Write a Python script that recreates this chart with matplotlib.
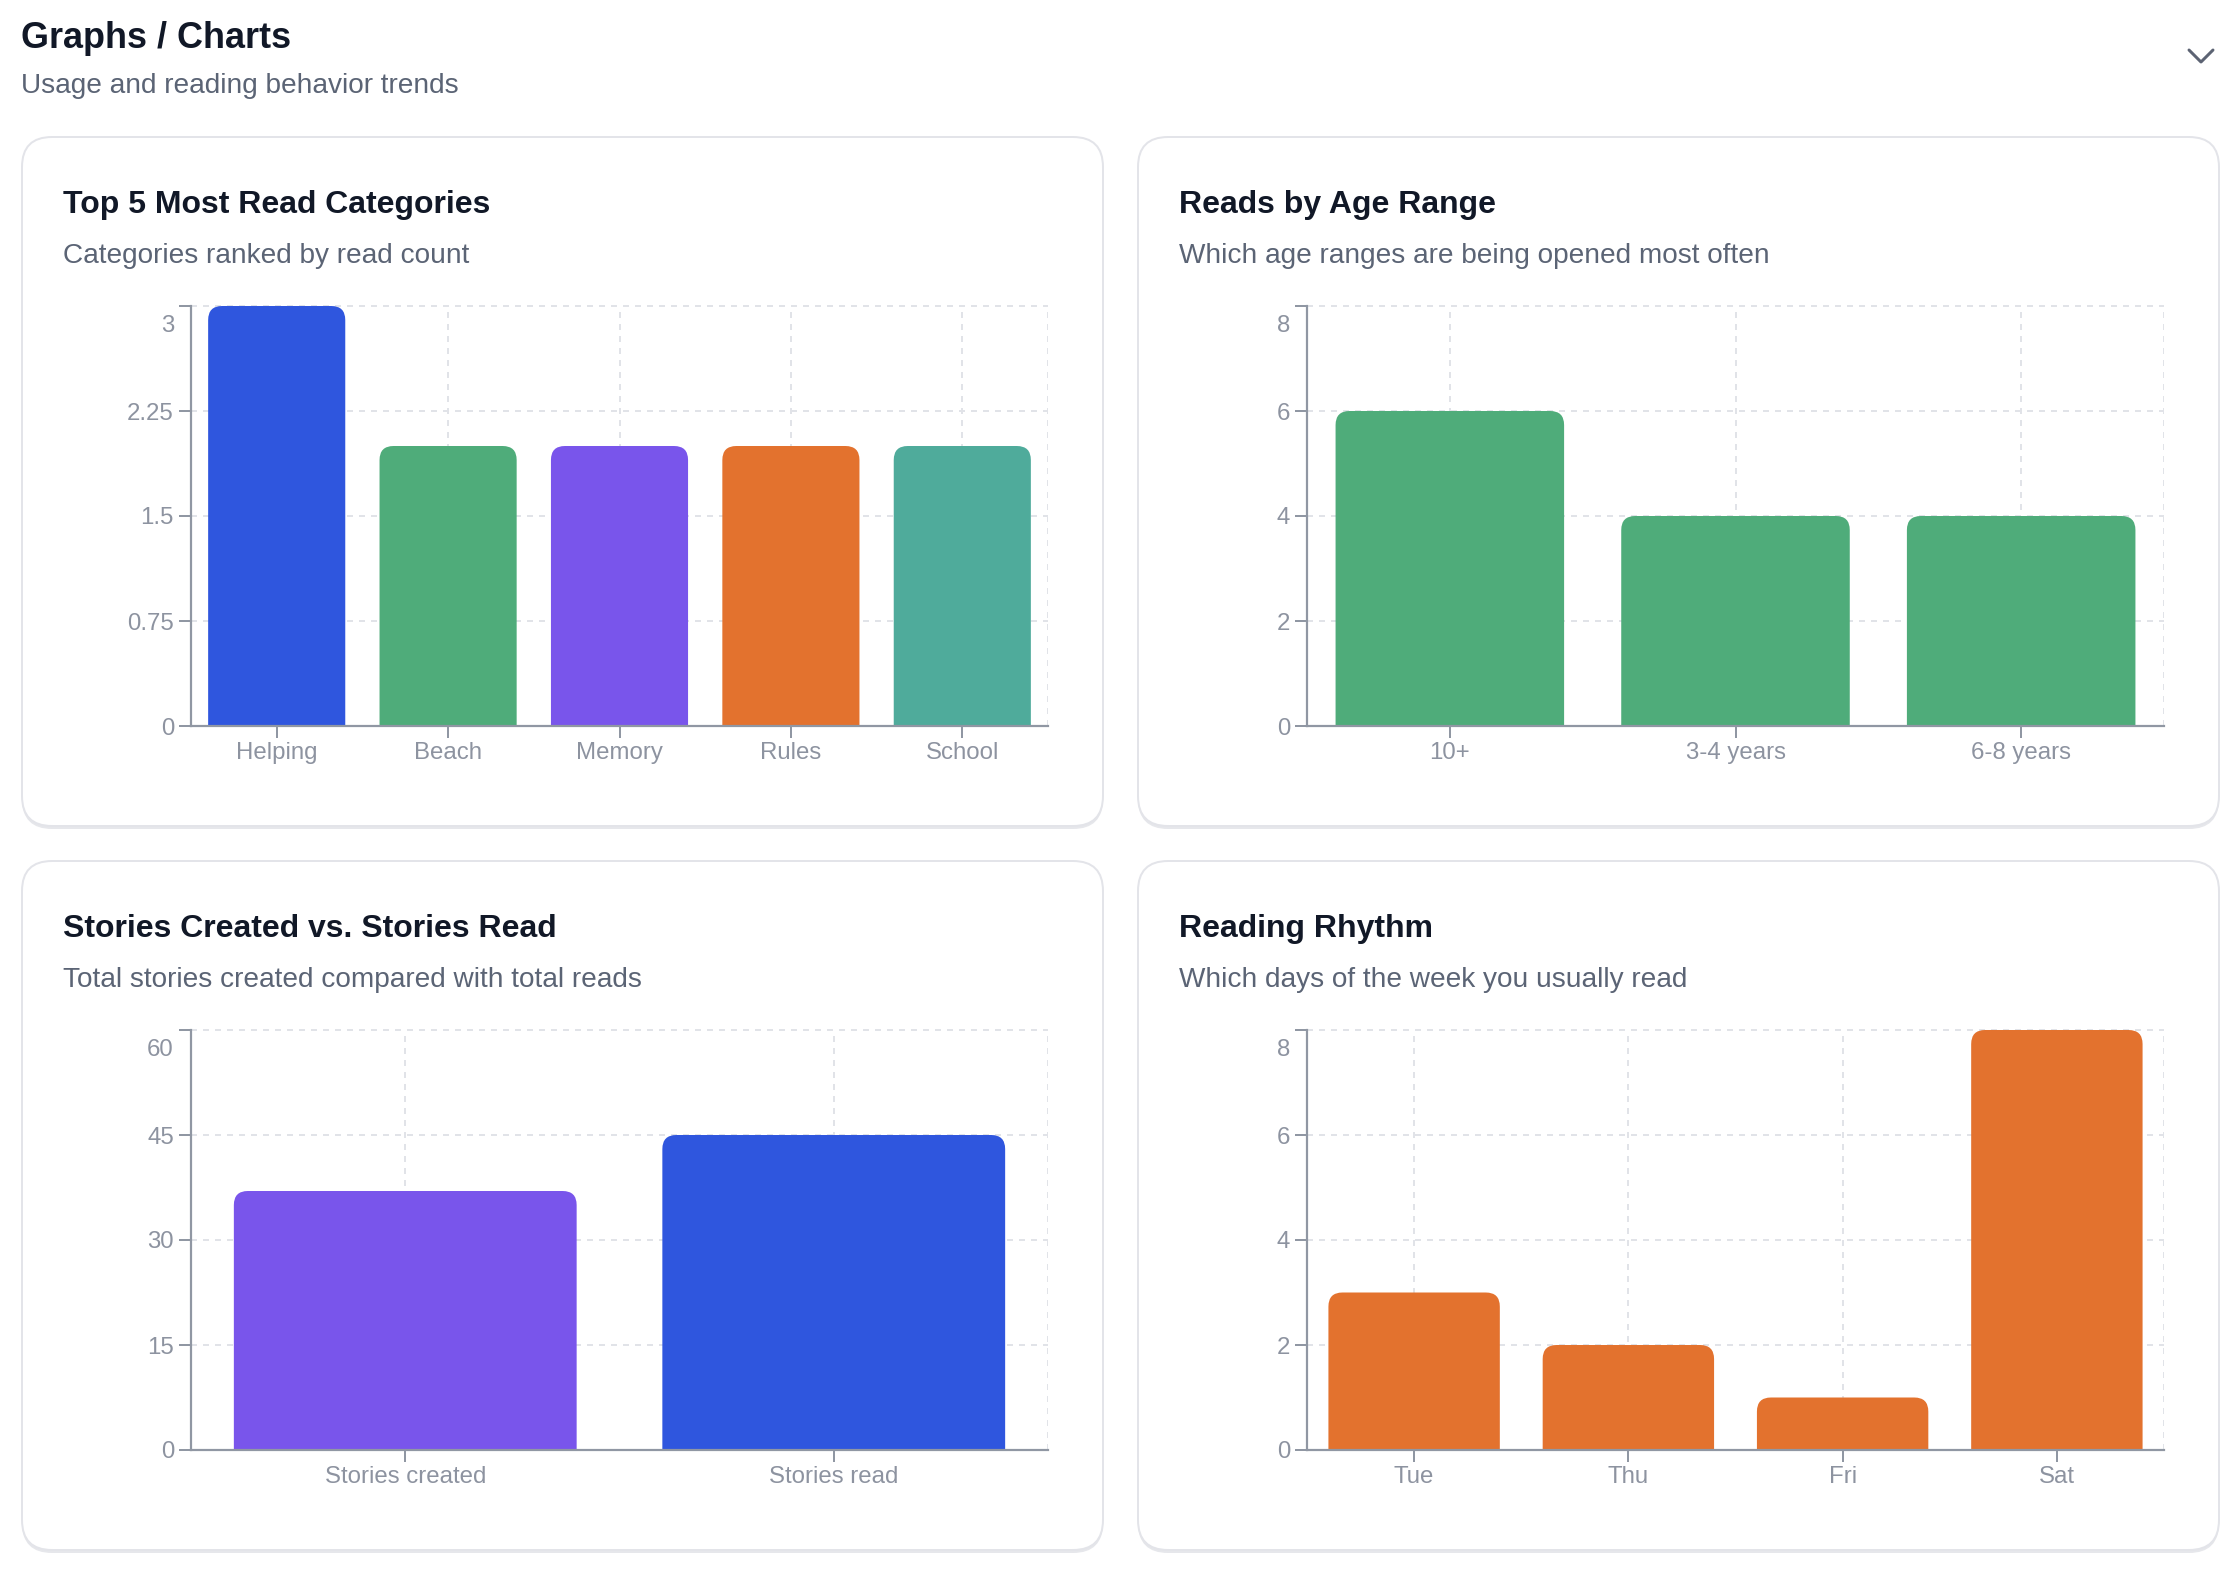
import matplotlib
matplotlib.use("Agg")
import matplotlib.pyplot as plt
from matplotlib.patches import FancyBboxPatch

plt.rcParams["font.family"] = ["Liberation Sans", "DejaVu Sans"]

# ---- data ----
cat_labels = ["Helping", "Beach", "Memory", "Rules", "School"]
cat_reads = [3, 2, 2, 2, 2]
cat_ticks = [0, 0.75, 1.5, 2.25, 3]
cat_tick_labels = ["0", "0.75", "1.5", "2.25", "3"]

age_labels = ["10+", "3-4 years", "6-8 years"]
age_reads = [6, 4, 4]
age_ticks = [0, 2, 4, 6, 8]

story_labels = ["Stories created", "Stories read"]
story_counts = [37, 45]
story_ticks = [0, 15, 30, 45, 60]

day_labels = ["Tue", "Thu", "Fri", "Sat"]
day_reads = [3, 2, 1, 8]
day_ticks = [0, 2, 4, 6, 8]

# ---- style ----
BLUE = "#2f56de"
GREEN = "#4fac7a"
PURPLE = "#7955eb"
ORANGE = "#e3722e"
TEAL = "#4fab9b"
AXIS = "#9097a3"
TICK_TXT = "#8d93a0"
GRID = "#e1e3e8"
TITLE = "#111827"
SUB = "#5b6475"

W, H, DPI = 2238, 1574, 200
PT = 72 / DPI  # points per pixel

fig = plt.figure(figsize=(W / DPI, H / DPI), dpi=DPI)
fig.patch.set_facecolor("white")

# background layer in pixel coordinates
bg = fig.add_axes([0, 0, 1, 1], zorder=0)
bg.set_xlim(0, W)
bg.set_ylim(H, 0)
bg.axis("off")

bg.text(21, 48, "Graphs / Charts", fontsize=36 * PT, fontweight="bold", color=TITLE, va="baseline")
bg.text(21, 93, "Usage and reading behavior trends", fontsize=28 * PT, color=SUB, va="baseline")
bg.plot([2189, 2201, 2213], [50, 62, 50], color="#5c6373", lw=3 * PT,
        solid_capstyle="round", solid_joinstyle="round")

card_w, card_h = 1081, 689
card_pos = [(22, 137), (1138, 137), (22, 861), (1138, 861)]
titles = ["Top 5 Most Read Categories", "Reads by Age Range",
          "Stories Created vs. Stories Read", "Reading Rhythm"]
subtitles = ["Categories ranked by read count",
             "Which age ranges are being opened most often",
             "Total stories created compared with total reads",
             "Which days of the week you usually read"]

for (cx, cy), t, s in zip(card_pos, titles, subtitles):
    shadow = FancyBboxPatch((cx, cy + 3), card_w, card_h,
                            boxstyle="round,pad=0,rounding_size=30",
                            facecolor="#e6e7eb", edgecolor="none")
    bg.add_patch(shadow)
    card = FancyBboxPatch((cx, cy), card_w, card_h,
                          boxstyle="round,pad=0,rounding_size=30",
                          facecolor="white", edgecolor="#e3e4e9", lw=2 * PT)
    bg.add_patch(card)
    bg.text(cx + 41, cy + 76, t, fontsize=32 * PT, fontweight="bold", color=TITLE, va="baseline")
    bg.text(cx + 41, cy + 126, s, fontsize=28 * PT, color=SUB, va="baseline")


def bar_panel(cx, cy, labels, values, colors, ticks, tick_labels=None):
    left, top = cx + 169, cy + 169
    pw, ph = 857, 420
    ax = fig.add_axes([left / W, 1 - (top + ph) / H, pw / W, ph / H], zorder=1)
    ax.set_facecolor("none")
    n = len(labels)
    ax.set_xlim(-0.5, n - 0.5)
    ax.set_ylim(ticks[0], ticks[-1])

    # grid
    for t in ticks:
        ax.axhline(t, color=GRID, lw=2 * PT, ls=(0, (3, 3)), zorder=0.5, clip_on=False)
    for i in list(range(n)) + [n - 0.5]:
        ax.axvline(i, color=GRID, lw=2 * PT, ls=(0, (3, 3)), zorder=0.5)

    # rounded-top bars sized through the axes' data transform
    x0, y0 = ax.transData.transform((0, 0))
    x1, y1 = ax.transData.transform((1, 1))
    sx, sy = x1 - x0, y1 - y0
    r = 14 / sx
    aspect = sx / sy
    bw = 0.8
    for i, (v, c) in enumerate(zip(values, colors)):
        p = FancyBboxPatch((i - bw / 2, -r * aspect), bw, v + r * aspect,
                           boxstyle=f"round,pad=0,rounding_size={r}",
                           mutation_aspect=aspect, facecolor=c, edgecolor="none", zorder=2)
        ax.add_patch(p)

    for side in ["top", "right"]:
        ax.spines[side].set_visible(False)
    for side in ["left", "bottom"]:
        ax.spines[side].set_color(AXIS)
        ax.spines[side].set_linewidth(2.2 * PT)
        ax.spines[side].set_zorder(3)

    ax.set_xticks(range(n), labels)
    if tick_labels is None:
        tick_labels = [str(t) for t in ticks]
    # top label is drawn separately, pushed down inside the plot like the source
    ax.set_yticks(ticks, tick_labels[:-1] + [""])
    ax.tick_params(axis="both", length=12 * PT, width=2 * PT, color=AXIS,
                   labelcolor=TICK_TXT, labelsize=24 * PT)
    ax.tick_params(axis="y", pad=5 * PT)
    ax.tick_params(axis="x", pad=4 * PT)
    ax.annotate(tick_labels[-1], xy=(0, ticks[-1]), xycoords=("axes fraction", "data"),
                xytext=(-17 * PT, -9 * PT), textcoords="offset points",
                ha="right", va="top", fontsize=24 * PT, color=TICK_TXT)
    return ax


bar_panel(*card_pos[0], cat_labels, cat_reads, [BLUE, GREEN, PURPLE, ORANGE, TEAL],
          cat_ticks, cat_tick_labels)
bar_panel(*card_pos[1], age_labels, age_reads, [GREEN] * len(age_reads), age_ticks)
bar_panel(*card_pos[2], story_labels, story_counts, [PURPLE, BLUE], story_ticks)
bar_panel(*card_pos[3], day_labels, day_reads, [ORANGE] * len(day_reads), day_ticks)

fig.savefig("out.png", dpi=DPI, facecolor="white")
